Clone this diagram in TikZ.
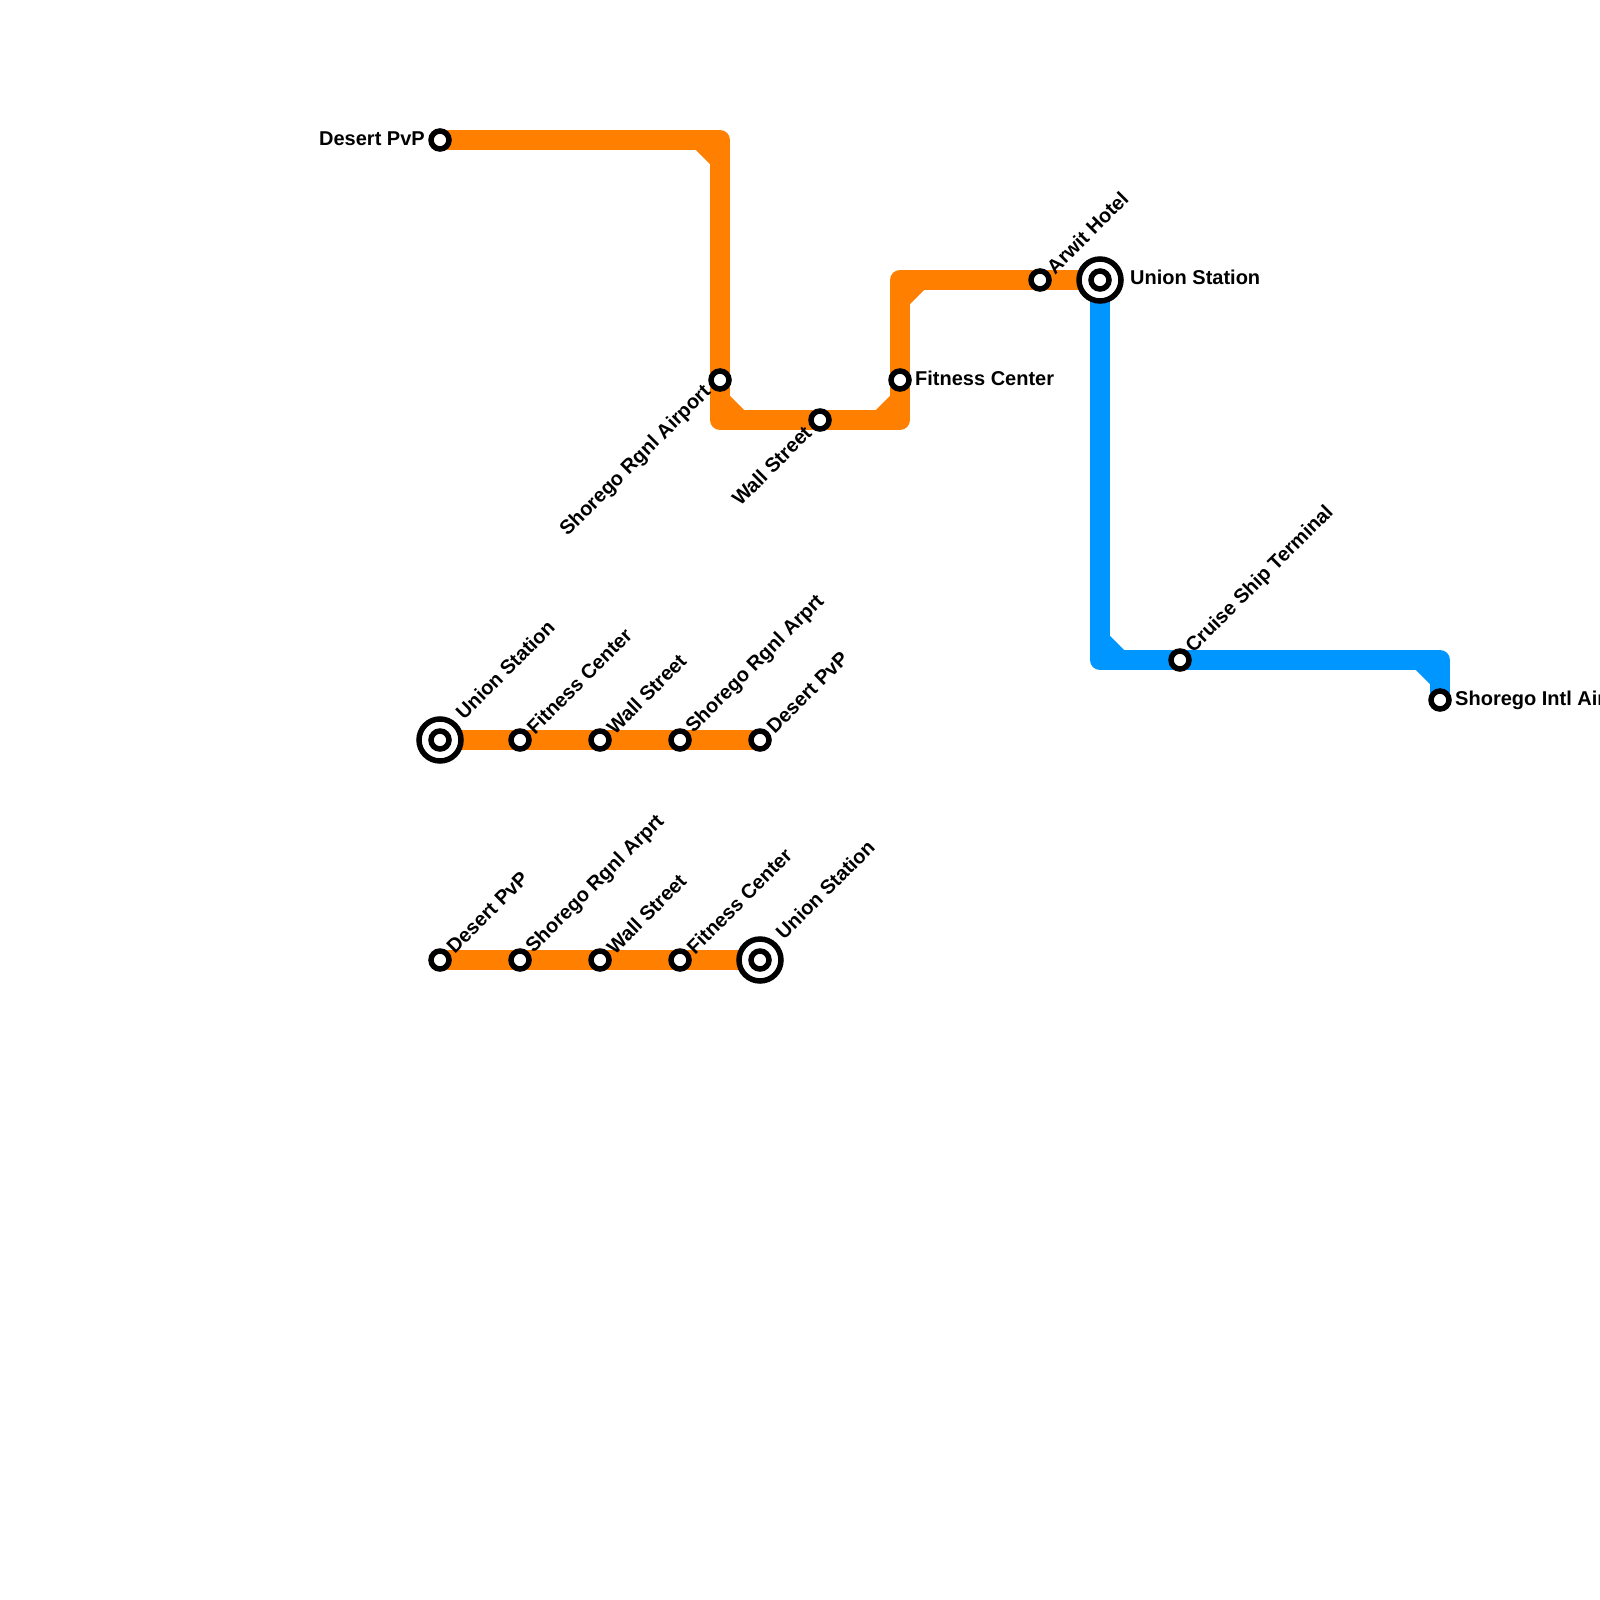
\documentclass[tikz,border=0pt]{standalone}
\usepackage{fontspec}
\setmainfont{Liberation Sans}
\definecolor{lineorange}{HTML}{FF8000}
\definecolor{lineblue}{HTML}{0096FF}
\tikzset{
  route/.style={line width=20pt,line join=round,line cap=butt},
  orangeroute/.style={route,draw=lineorange},
  blueroute/.style={route,draw=lineblue},
  stn/.style={circle,draw=black,fill=white,line width=5.5pt,minimum size=18pt,inner sep=0pt,outer sep=0pt},
  hub/.style={circle,draw=black,fill=white,line width=5.5pt,minimum size=42pt,inner sep=0pt,outer sep=0pt},
  lab/.style={font=\bfseries\fontsize{20pt}{24pt}\selectfont,inner sep=0pt,text=black},
  labR/.style={lab,anchor=west,xshift=15pt,yshift=2pt},
  labL/.style={lab,anchor=east,xshift=-15pt,yshift=1pt},
  labUp/.style={lab,anchor=west,rotate=45,xshift=14pt,yshift=0pt},
  labUpHub/.style={lab,anchor=west,rotate=45,xshift=30.5pt,yshift=3.7pt},
  labDown/.style={lab,anchor=east,rotate=45,xshift=-15pt,yshift=2pt},
}
\begin{document}
\begin{tikzpicture}[x=1pt,y=-1pt]
\useasboundingbox (0,0) rectangle (1600,1600);
\fill[white] (0,0) rectangle (1600,1600);
\clip (0,0) rectangle (1600,1600);
% corner points
\coordinate (c1) at (720,140);
\coordinate (c1a) at (700,140);
\coordinate (c1b) at (720,160);
\coordinate (c2) at (720,420);
\coordinate (c2a) at (720,400);
\coordinate (c2b) at (740,420);
\coordinate (c3) at (900,420);
\coordinate (c3a) at (880,420);
\coordinate (c3b) at (900,400);
\coordinate (c4) at (900,280);
\coordinate (c4a) at (900,300);
\coordinate (c4b) at (920,280);
\coordinate (c5) at (1100,660);
\coordinate (c5a) at (1100,640);
\coordinate (c5b) at (1120,660);
\coordinate (c6) at (1440,660);
\coordinate (c6a) at (1420,660);
\coordinate (c6b) at (1440,680);
% station positions
\coordinate (pDesert) at (440,140);
\coordinate (pRgnl) at (720,380);
\coordinate (pWall) at (820,420);
\coordinate (pFit) at (900,380);
\coordinate (pArwit) at (1040,280);
\coordinate (pUnion) at (1100,280);
\coordinate (pCruise) at (1180,660);
\coordinate (pIntl) at (1440,700);
\coordinate (pA1) at (440,740);
\coordinate (pA2) at (520,740);
\coordinate (pA3) at (600,740);
\coordinate (pA4) at (680,740);
\coordinate (pA5) at (760,740);
\coordinate (pB1) at (440,960);
\coordinate (pB2) at (520,960);
\coordinate (pB3) at (600,960);
\coordinate (pB4) at (680,960);
\coordinate (pB5) at (760,960);
% routes
\draw[orangeroute] (pDesert) -- (c1) -- (pRgnl) -- (c2) -- (pWall) -- (c3) -- (pFit) -- (c4) -- (pArwit) -- (pUnion);
\draw[orangeroute] (c1a) -- (c1b);
\draw[orangeroute] (c2a) -- (c2b);
\draw[orangeroute] (c3a) -- (c3b);
\draw[orangeroute] (c4a) -- (c4b);
\draw[blueroute] (pUnion) -- (c5) -- (pCruise) -- (c6) -- (pIntl);
\draw[blueroute] (c5a) -- (c5b);
\draw[blueroute] (c6a) -- (c6b);
\draw[orangeroute] (pA1) -- (pA5);
\draw[orangeroute] (pB1) -- (pB5);
% stations
\node[stn] (sDesert) at (pDesert) {};
\node[stn] (sRgnl) at (pRgnl) {};
\node[stn] (sWall) at (pWall) {};
\node[stn] (sFit) at (pFit) {};
\node[stn] (sArwit) at (pArwit) {};
\node[hub] (hUnion) at (pUnion) {};
\node[stn] (sUnion) at (pUnion) {};
\node[stn] (sCruise) at (pCruise) {};
\node[stn] (sIntl) at (pIntl) {};
\node[hub] (hA1) at (pA1) {};
\node[stn] (sA1) at (pA1) {};
\node[stn] (sA2) at (pA2) {};
\node[stn] (sA3) at (pA3) {};
\node[stn] (sA4) at (pA4) {};
\node[stn] (sA5) at (pA5) {};
\node[stn] (sB1) at (pB1) {};
\node[stn] (sB2) at (pB2) {};
\node[stn] (sB3) at (pB3) {};
\node[stn] (sB4) at (pB4) {};
\node[hub] (hB5) at (pB5) {};
\node[stn] (sB5) at (pB5) {};
% labels
\node[labL] (lDesert) at (pDesert) {Desert PvP};
\node[labDown] (lRgnl) at (pRgnl) {Shorego Rgnl Airport};
\node[labDown] (lWall) at (pWall) {Wall Street};
\node[labR] (lFit) at (pFit) {Fitness Center};
\node[labUp] (lArwit) at (pArwit) {Arwit Hotel};
\node[labR,xshift=15pt,yshift=1pt] (lUnion) at (pUnion) {Union Station};
\node[labUp] (lCruise) at (pCruise) {Cruise Ship Terminal};
\node[labR,yshift=-2pt] (lIntl) at (pIntl) {Shorego Intl Airport};
\node[labUpHub] (lA1) at (pA1) {Union Station};
\node[labUp] (lA2) at (pA2) {Fitness Center};
\node[labUp] (lA3) at (pA3) {Wall Street};
\node[labUp] (lA4) at (pA4) {Shorego Rgnl Arprt};
\node[labUp] (lA5) at (pA5) {Desert PvP};
\node[labUp] (lB1) at (pB1) {Desert PvP};
\node[labUp] (lB2) at (pB2) {Shorego Rgnl Arprt};
\node[labUp] (lB3) at (pB3) {Wall Street};
\node[labUp] (lB4) at (pB4) {Fitness Center};
\node[labUpHub] (lB5) at (pB5) {Union Station};
\end{tikzpicture}
\end{document}
